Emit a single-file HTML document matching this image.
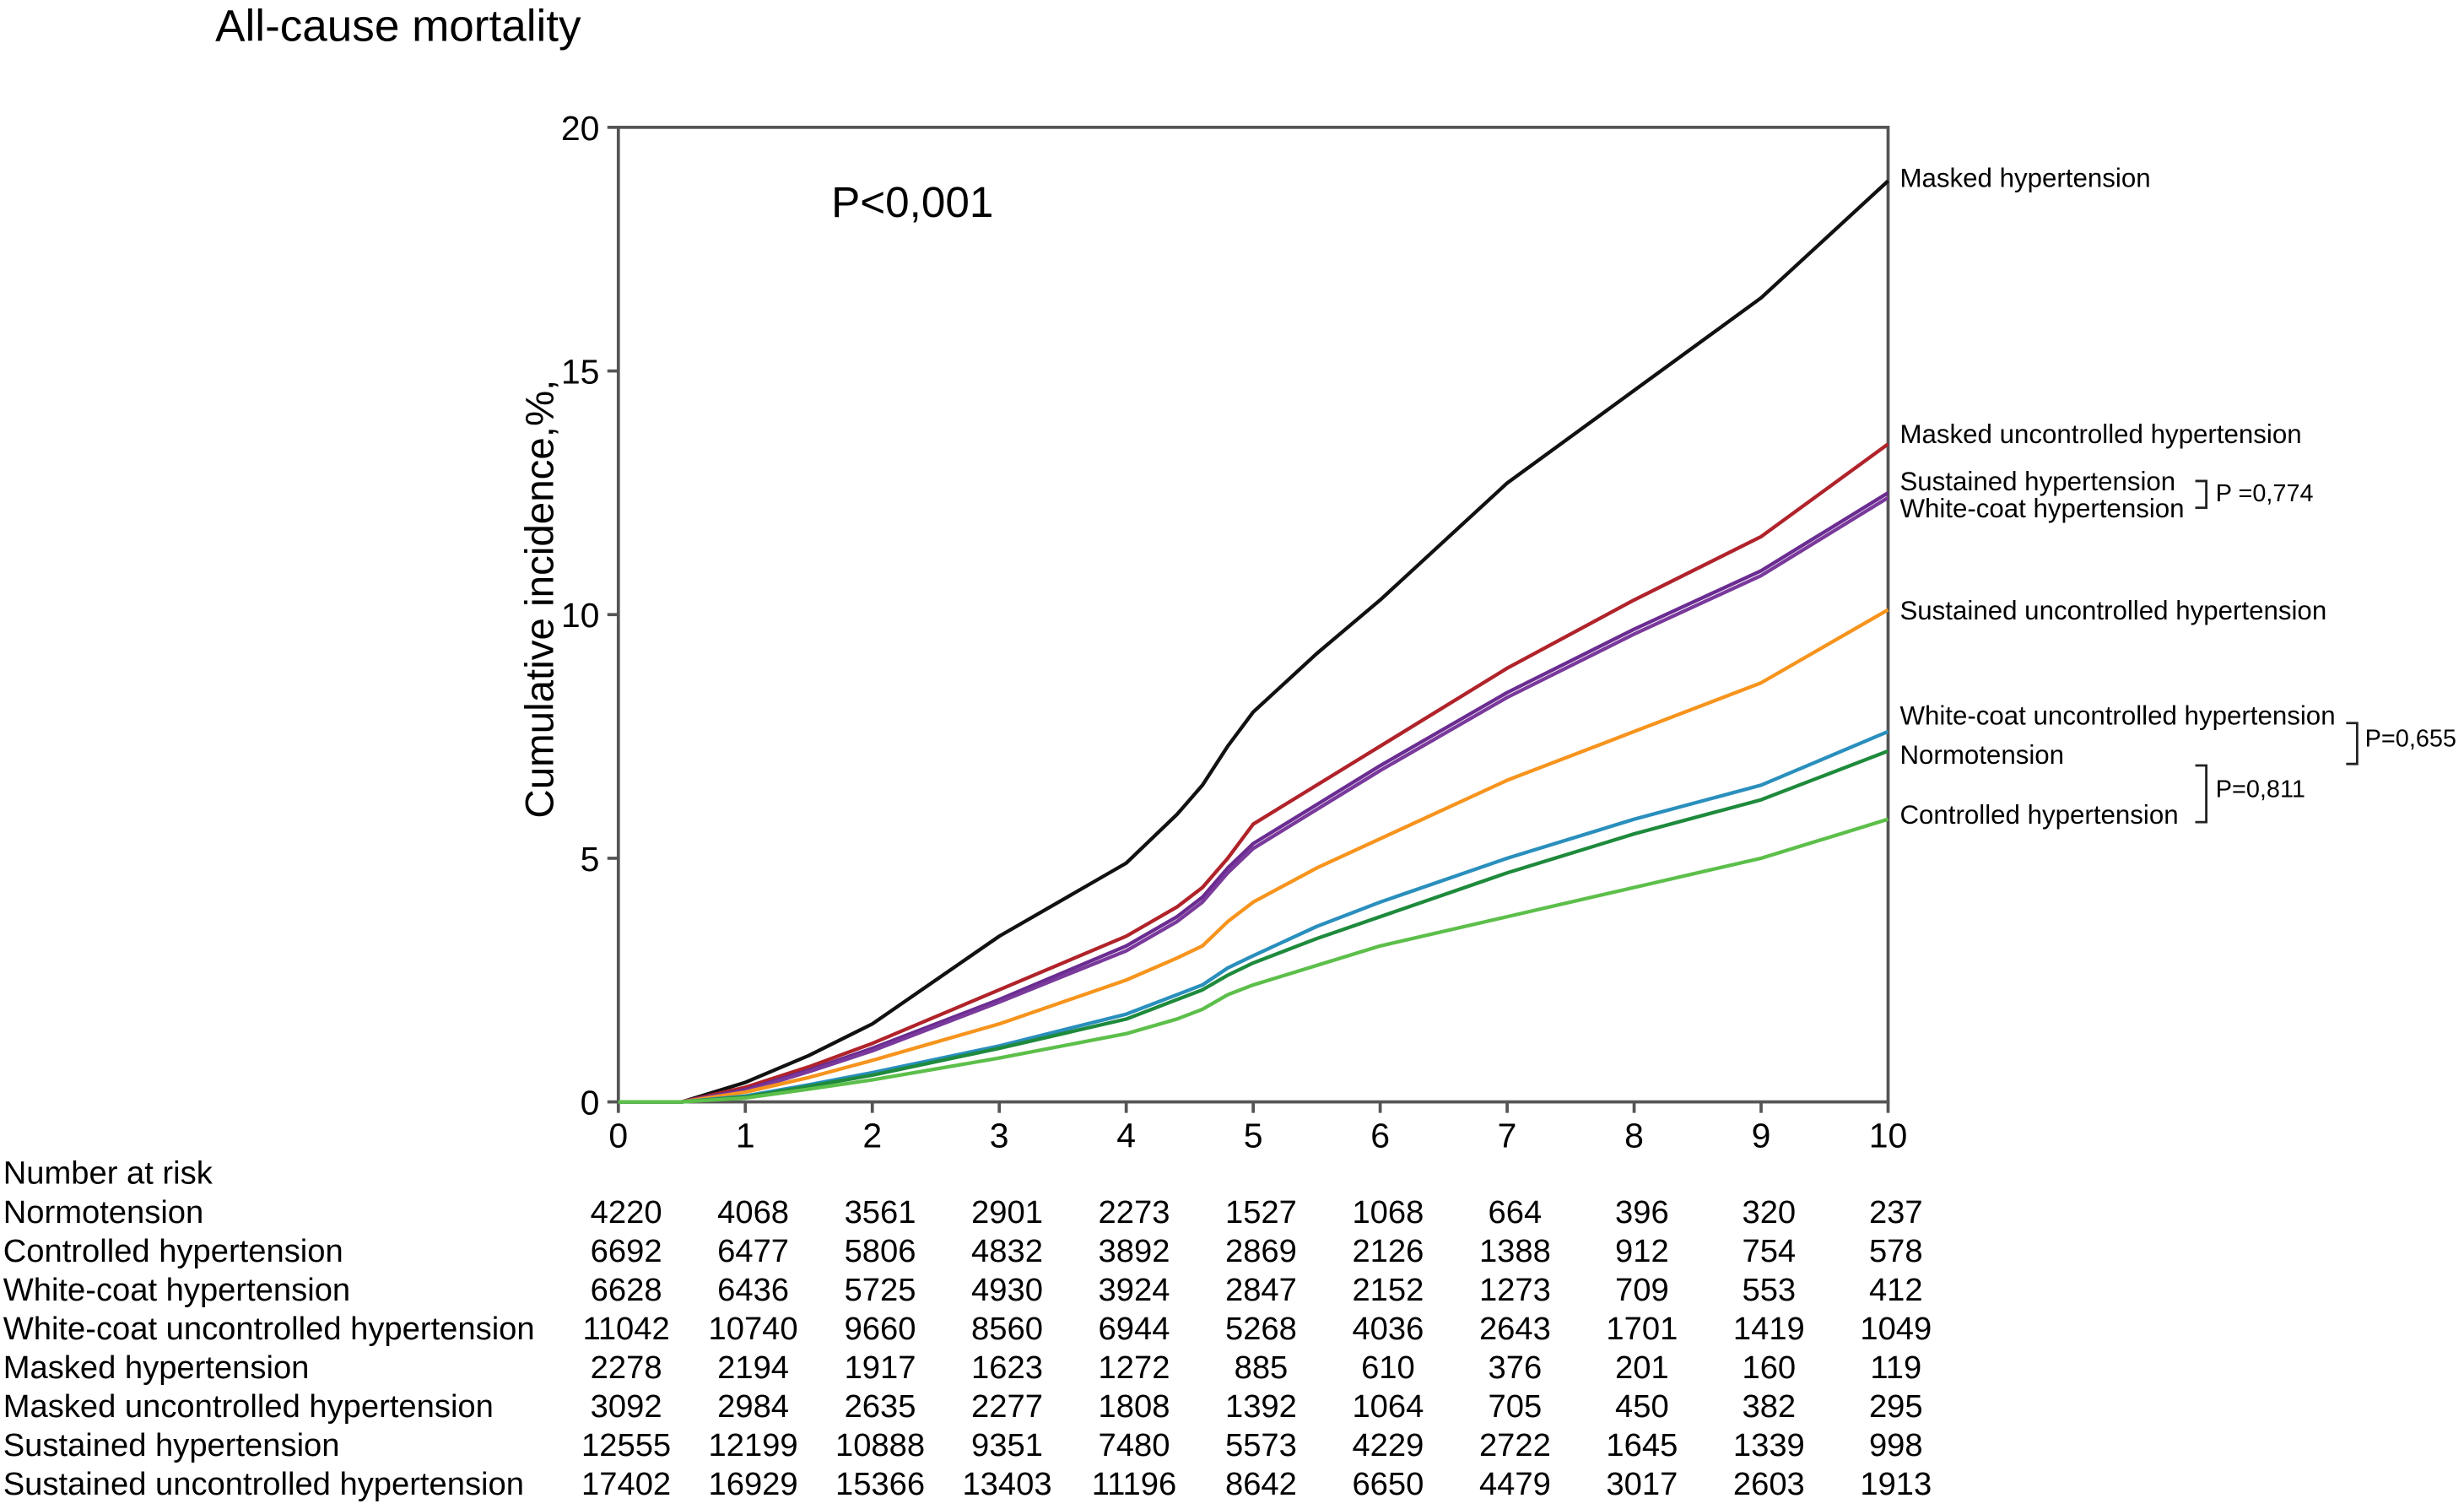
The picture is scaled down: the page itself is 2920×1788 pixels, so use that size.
<!DOCTYPE html>
<html><head><meta charset="utf-8"><style>
html,body{margin:0;padding:0;background:#fff;}
svg{display:block;font-family:"Liberation Sans",Arial,sans-serif;}
</style></head><body>
<svg id="chart" width="2920" height="1788" viewBox="0 0 1568 960" preserveAspectRatio="none" xmlns="http://www.w3.org/2000/svg">
<text x="137" y="26" font-size="28.5">All-cause mortality</text>
<g id="plot"></g>
<g id="table"></g>
</svg>
<script>
const years = [0, 0.5, 1, 1.5, 2, 3, 4, 4.4, 4.6, 4.8, 5, 5.5, 6, 7, 8, 9, 10];
const seriesNames = ["Masked hypertension","Masked uncontrolled hypertension","Sustained hypertension","White-coat hypertension","Sustained uncontrolled hypertension","White-coat uncontrolled hypertension","Normotension","Controlled hypertension"];
const seriesColors = ["#111111","#b0232a","#6a2c91","#7a3a9c","#f7941d","#2a8fbd","#1e8a3c","#5cbf4a"];
const masked       = [0,0,0.4,0.95,1.6,3.4,4.9,5.9,6.5,7.3,8.0,9.2,10.3,12.7,14.6,16.5,18.9];
const maskedUnc    = [0,0,0.3,0.72,1.2,2.3,3.4,4.0,4.4,5.0,5.7,6.5,7.3,8.9,10.3,11.6,13.5];
const sustained    = [0,0,0.25,0.65,1.1,2.1,3.2,3.8,4.2,4.8,5.3,6.1,6.9,8.4,9.7,10.9,12.5];
const whiteCoat    = [0,0,0.22,0.62,1.05,2.05,3.1,3.7,4.1,4.7,5.2,6.0,6.8,8.3,9.6,10.8,12.4];
const sustainedUnc = [0,0,0.2,0.5,0.85,1.6,2.5,2.95,3.2,3.7,4.1,4.8,5.4,6.6,7.6,8.6,10.1];
const whiteCoatUnc = [0,0,0.12,0.35,0.6,1.15,1.8,2.2,2.4,2.75,3.0,3.6,4.1,5.0,5.8,6.5,7.6];
const normo        = [0,0,0.1,0.32,0.55,1.1,1.7,2.1,2.3,2.6,2.85,3.35,3.8,4.7,5.5,6.2,7.2];
const controlled   = [0,0,0.08,0.26,0.45,0.9,1.4,1.7,1.9,2.2,2.4,2.8,3.2,3.8,4.4,5.0,5.8];
const allSeries = [masked,maskedUnc,sustained,whiteCoat,sustainedUnc,whiteCoatUnc,normo,controlled];
const xTicks = [0,1,2,3,4,5,6,7,8,9,10];
const yTicks = [0,5,10,15,20];
const riskRows = ["Normotension","Controlled hypertension","White-coat hypertension","White-coat uncontrolled hypertension","Masked hypertension","Masked uncontrolled hypertension","Sustained hypertension","Sustained uncontrolled hypertension"];
const riskNormo = [4220,4068,3561,2901,2273,1527,1068,664,396,320,237];
const riskControlled = [6692,6477,5806,4832,3892,2869,2126,1388,912,754,578];
const riskWhiteCoat = [6628,6436,5725,4930,3924,2847,2152,1273,709,553,412];
const riskWhiteCoatUnc = [11042,10740,9660,8560,6944,5268,4036,2643,1701,1419,1049];
const riskMasked = [2278,2194,1917,1623,1272,885,610,376,201,160,119];
const riskMaskedUnc = [3092,2984,2635,2277,1808,1392,1064,705,450,382,295];
const riskSustained = [12555,12199,10888,9351,7480,5573,4229,2722,1645,1339,998];
const riskSustainedUnc = [17402,16929,15366,13403,11196,8642,6650,4479,3017,2603,1913];
const riskData = [riskNormo,riskControlled,riskWhiteCoat,riskWhiteCoatUnc,riskMasked,riskMaskedUnc,riskSustained,riskSustainedUnc];

const NS="http://www.w3.org/2000/svg";
const X0=393.5,X1=1201.5,Y0=701,Y1=81;
const xs=v=>X0+(X1-X0)*v/10;
const ys=v=>Y0-(Y0-Y1)*v/20;
function mk(tag,attrs,parent,text){const e=document.createElementNS(NS,tag);for(const k in attrs)e.setAttribute(k,attrs[k]);if(text!==undefined)e.textContent=text;parent.appendChild(e);return e;}
const plot=document.getElementById('plot');
const frame=mk('rect',{x:X0,y:Y1,width:X1-X0,height:Y0-Y1,fill:'none',stroke:'#555','stroke-width':2},plot);


xTicks.forEach(t=>{
  const l=mk('line',{x1:xs(t),x2:xs(t),y1:Y0,y2:Y0+7,stroke:'#555','stroke-width':2},plot);
  
  
  const tx=mk('text',{x:xs(t),y:Y0+29,'font-size':22,'text-anchor':'middle'},plot,String(t));
  
  
});
yTicks.forEach(t=>{
  const l=mk('line',{x1:X0-7,x2:X0,y1:ys(t),y2:ys(t),stroke:'#555','stroke-width':2},plot);
  
  
  const tx=mk('text',{x:X0-12,y:ys(t)+8,'font-size':22,'text-anchor':'end'},plot,String(t));
  
  
});
const yl=mk('text',{x:0,y:0,'font-size':25.5,'text-anchor':'middle',transform:'translate(352,381) rotate(-90)'},plot,'Cumulative incidence,%,');


const pv=mk('text',{x:529,y:138,'font-size':27.5},plot,'P<0,001');


allSeries.forEach((s,i)=>{
  const d=s.map((v,j)=>(j?'L':'M')+xs(years[j]).toFixed(1)+','+ys(v).toFixed(1)).join(' ');
  const p=mk('path',{d:d,fill:'none',stroke:seriesColors[i],'stroke-width':2.3,'stroke-linejoin':'round'},plot);
  
  
});
const labels=[["Masked hypertension",119],["Masked uncontrolled hypertension",282],["Sustained hypertension",312],["White-coat hypertension",329],["Sustained uncontrolled hypertension",394],["White-coat uncontrolled hypertension",461],["Normotension",486],["Controlled hypertension",524]];
labels.forEach(l=>{
  const t=mk('text',{x:1209,y:l[1],'font-size':16.8},plot,l[0]);
  
  
});
const brackets=[[1397,306,323,1410,319,'P =0,774'],[1493,460,486,1505,475,'P=0,655'],[1397,487,523,1410,507,'P=0,811']];
brackets.forEach(b=>{
  const p=mk('path',{d:`M${b[0]},${b[1]} H${b[0]+7} V${b[2]} H${b[0]}`,fill:'none',stroke:'#222','stroke-width':1.5},plot);
  
  
  const t=mk('text',{x:b[3],y:b[4],'font-size':15.5},plot,b[5]);
  
  
});
const table=document.getElementById('table');
const h=mk('text',{x:2,y:753,'font-size':20.5},table,'Number at risk');


riskRows.forEach((r,i)=>{
  const y=778+i*24.7;
  const t=mk('text',{x:2,y:y,'font-size':20.5},table,r);
  
  
  riskData[i].forEach((v,j)=>{
    const c=mk('text',{x:xs(j)+5,y:y,'font-size':20.5,'text-anchor':'middle'},table,String(v));
    
    
  });
});
</script>
</body></html>
